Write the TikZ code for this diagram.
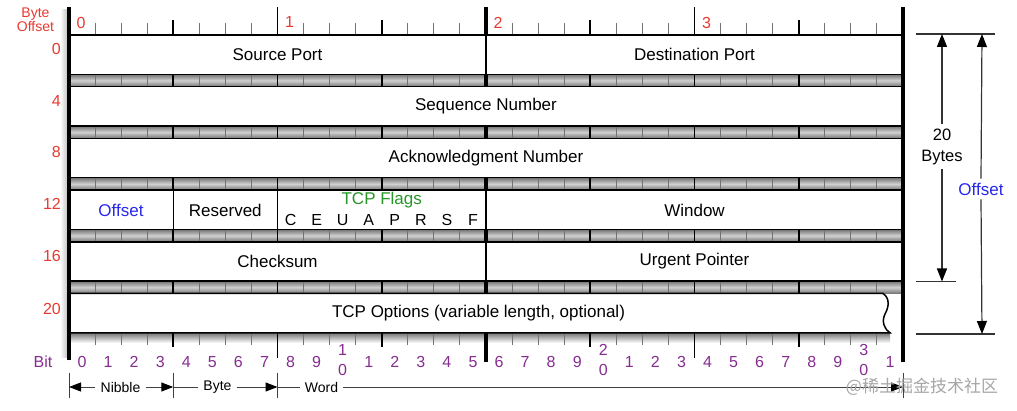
\documentclass[tikz,border=0pt]{standalone}
\usepackage{fontspec}
\setmainfont{Liberation Sans}
\newfontfamily\cjkfont{Noto Sans CJK SC}
\usetikzlibrary{arrows.meta}
\definecolor{lblred}{RGB}{232,58,48}
\definecolor{lblblue}{RGB}{40,40,235}
\definecolor{lblgreen}{RGB}{40,150,40}
\definecolor{lblpurple}{RGB}{135,45,145}
\tikzset{
  maintxt/.style={font=\fontsize{17}{20}\selectfont, inner sep=0pt},
  rowlbl/.style={font=\fontsize{16}{19}\selectfont, text=lblred, anchor=east, inner sep=0pt},
  toplbl/.style={font=\fontsize{16}{19}\selectfont, text=lblred, inner sep=0pt},
  bitlbl/.style={font=\fontsize{16}{19}\selectfont, text=lblpurple, inner sep=0pt},
  flaglbl/.style={font=\fontsize{16}{19}\selectfont, inner sep=0pt},
  dimlbl/.style={font=\fontsize{14}{16}\selectfont, inner sep=5pt},
  sidelbl/.style={font=\fontsize{16.5}{21}\selectfont, align=center, inner sep=4pt},
  boxline/.style={line width=1.5pt, fill=white},
  thintick/.style={line width=1pt, draw=black!55},
  nibtick/.style={line width=1.6pt, draw=black},
  wordtick/.style={line width=3.5pt, draw=black},
  dimline/.style={line width=1pt, draw=black!75},
  dimarrow/.style={line width=1pt, draw=black!75, -{Triangle[length=12pt,width=9pt,fill=black,color=black]}},
  sidearrow/.style={line width=1.2pt, draw=black!80, -{Triangle[length=13pt,width=10pt,fill=black,color=black]}},
  sideline/.style={line width=1.2pt, draw=black!80},
}
\begin{document}
\begin{tikzpicture}[x=1pt,y=-1pt]
\def\bw{26.0625}
\useasboundingbox (0,0) rectangle (1017,411);
\fill[white] (0,0) rectangle (1017,411);

% soft shadow left of the figure
\shade[left color=white, right color=black!25] (60,10) rectangle (68,358);

% ---- gray bands between rows
\foreach \i in {0,...,4}{
  \pgfmathsetmacro\ya{35+51.7*\i+39.3}
  \pgfmathsetmacro\yb{35+51.7*(\i+1)}
  \shade[top color=black!55, bottom color=black!55, middle color=black!18] (69,\ya) rectangle (903,\yb);
  \foreach \k in {1,2,3,5,6,7,9,10,11,13,14,15,17,18,19,21,22,23,25,26,27,29,30,31}
    \draw[thintick] ({69+\k*\bw},\ya) -- ({69+\k*\bw},\yb);
  \foreach \k in {4,8,12,20,24,28}
    \draw[nibtick] ({69+\k*\bw},\ya) -- ({69+\k*\bw},\yb);
  \draw[wordtick] ({69+16*\bw},\ya) -- ({69+16*\bw},\yb);
}

% ---- bottom ruler (below options row)
\shade[top color=black!55, bottom color=white] (69,332.8) rectangle (890,343);
\foreach \k in {1,2,3,5,6,7,9,10,11,13,14,15,17,18,19,21,22,23,25,26,27,29,30,31}
  \draw[thintick] ({69+\k*\bw},332.8) -- ({69+\k*\bw},345);
\foreach \k in {4,12,20,28}
  \draw[nibtick] ({69+\k*\bw},332.8) -- ({69+\k*\bw},347);
\foreach \k in {8,24}
  \draw[nibtick] ({69+\k*\bw},332.8) -- ({69+\k*\bw},358);
\draw[wordtick] ({69+16*\bw},332.8) -- ({69+16*\bw},362);

% ---- top ruler
\foreach \k in {1,2,3,5,6,7,9,10,11,13,14,15,17,18,19,21,22,23,25,26,27,29,30,31}
  \draw[thintick] ({69+\k*\bw},23) -- ({69+\k*\bw},35);
\foreach \k in {4,12,20,28}
  \draw[nibtick] ({69+\k*\bw},20.5) -- ({69+\k*\bw},35);
\foreach \k in {8,24}
  \draw[nibtick] ({69+\k*\bw},7) -- ({69+\k*\bw},35);
\draw[wordtick] ({69+16*\bw},7) -- ({69+16*\bw},35);

% ---- row boxes
\foreach \i in {0,...,4}{
  \pgfmathsetmacro\ya{35+51.7*\i}
  \draw[boxline] (69,\ya) rectangle (903,\ya+39.3);
}
\draw[boxline] (69,293.5) -- (883,293.5)
  .. controls (890,298) and (889,307) .. (885,314)
  .. controls (881,322) and (885,330) .. (890,332.8)
  -- (69,332.8) -- cycle;

% ---- field dividers
\draw[line width=1.2pt] ({69+16*\bw},35) -- ({69+16*\bw},74.3);
\draw[line width=1.2pt] ({69+4*\bw},190.1) -- ({69+4*\bw},229.4);
\draw[line width=1.2pt] ({69+8*\bw},190.1) -- ({69+8*\bw},229.4);
\draw[line width=1.2pt] ({69+16*\bw},190.1) -- ({69+16*\bw},229.4);
\draw[line width=1.2pt] ({69+16*\bw},241.8) -- ({69+16*\bw},281.1);

% ---- thick outer verticals
\draw[line width=4pt] (69,7) -- (69,360);
\draw[line width=4pt] (903,7) -- (903,362);

% ---- field texts
\node[maintxt] (src) at (277.5,54.6) {Source Port};
\node[maintxt] (dst) at (694.5,54.6) {Destination Port};
\node[maintxt] (seq) at (486,106.3) {Sequence Number};
\node[maintxt] (ack) at (486,158) {Acknowledgment Number};
\node[maintxt, text=lblblue] (off) at (121,210) {Offset};
\node[maintxt] (res) at (225.3,210) {Reserved};
\node[maintxt, text=lblgreen] (flags) at (381.75,200.5) {TCP Flags};
\node[maintxt] (win) at (694.5,210) {Window};
\node[maintxt] (chk) at (277.5,261.5) {Checksum};
\node[maintxt] (urg) at (694.5,261.5) {Urgent Pointer};
\node[maintxt] (opt) at (478.5,313.2) {TCP Options (variable length, optional)};
\foreach \l/\k in {C/8,E/9,U/10,A/11,P/12,R/13,S/14,F/15}
  \node[flaglbl] (flag\l) at ({69+(\k+0.5)*\bw},220) {\l};

% ---- left labels
\node[font=\fontsize{14}{16}\selectfont, text=lblred, align=center, inner sep=0pt] (byteoff) at (35.5,20) {Byte\\[-1.5pt]Offset};
\node[rowlbl] (r0) at (61,48.5) {0};
\node[rowlbl] (r4) at (61,100.5) {4};
\node[rowlbl] (r8) at (61,152) {8};
\node[rowlbl] (r12) at (61,203.5) {12};
\node[rowlbl] (r16) at (61,256) {16};
\node[rowlbl] (r20) at (61,308.5) {20};

% ---- top byte labels
\node[toplbl] (b0) at (81,22.5) {0};
\node[toplbl] (b1) at (289.5,22.5) {1};
\node[toplbl] (b2) at (498,22.5) {2};
\node[toplbl] (b3) at (706.5,22.5) {3};

% ---- bit labels
\node[bitlbl] (bitword) at (43,362) {Bit};
\foreach \k in {0,...,9,11,12,13,14,15,16,17,18,19,21,22,23,24,25,26,27,28,29,31}{
  \pgfmathtruncatemacro\d{mod(\k,10)}
  \node[bitlbl] (bit\k) at ({69+(\k+0.5)*\bw},362) {\d};
}
\foreach \k/\t in {10/1,20/2,30/3}{
  \node[bitlbl] (bit\k a) at ({69+(\k+0.5)*\bw},350) {\t};
  \node[bitlbl] (bit\k b) at ({69+(\k+0.5)*\bw},369.5) {0};
}

% ---- bottom dimension lines
\foreach \x in {69,173.25,277.5,903}
  \draw[dimline] (\x,373) -- (\x,398);
\coordinate (d0) at (69,387);
\coordinate (d4) at (173.25,387);
\coordinate (d8) at (277.5,387);
\coordinate (d32) at (903,387);
\node[dimlbl] (nib) at (120.5,387) {Nibble};
\node[dimlbl] (byt) at (217.5,387) {Byte};
\node[dimlbl] (wrd) at (321.5,387) {Word};
\draw[dimarrow] (nib.west) -- (d0);
\draw[dimarrow] (nib.east) -- (d4);
\draw[dimline] (d4) -- (byt.west);
\draw[dimarrow] (byt.east) -- (d8);
\draw[dimline] (d8) -- (wrd.west);
\draw[dimarrow] (wrd.east) -- (d32);

% ---- right side dimension
\coordinate (rt1) at (942,34);
\coordinate (rb1) at (942,281.5);
\coordinate (rt2) at (982,34);
\coordinate (rb2) at (982,334);
\draw[sideline] (916,34) -- (995,34);
\draw[sideline] (916,281.5) -- (956,281.5);
\draw[sideline] (916,334) -- (995,334);
\node[sidelbl] (bytes20) at (942,146.5) {20\\Bytes};
\node[sidelbl, text=lblblue, font=\fontsize{17}{20}\selectfont] (offr) at (981,189) {Offset};
\draw[sidearrow] (bytes20.north) -- (rt1);
\draw[sidearrow] (bytes20.south) -- (rb1);
\draw[sidearrow] (offr.north) -- (rt2);
\draw[sidearrow] (offr.south) -- (rb2);

% ---- watermark
\node[font=\cjkfont\fontsize{17}{20}\selectfont, text=black!35, inner sep=0pt] (wm) at (922,387) {@稀土掘金技术社区};
\end{tikzpicture}
\end{document}
